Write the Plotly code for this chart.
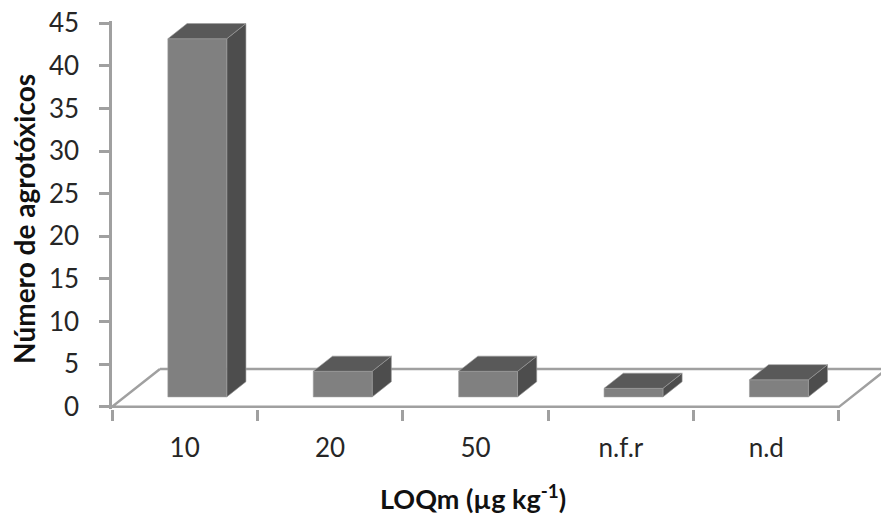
import plotly.graph_objects as go

# ---- data ----
categories = ["10", "20", "50", "n.f.r", "n.d"]
values = [42, 3, 3, 1, 2]
y_tick_vals = [0, 5, 10, 15, 20, 25, 30, 35, 40, 45]

# ---- 3D-look geometry (in data units) ----
DX, DY = 0.33, 4.45          # floor depth vector
BAR_W = 0.405                # bar width (category units)
F0, F1 = 0.263, 0.663        # bar depth start/end fractions of floor depth

FRONT = "#808080"
TOP = "#595959"
SIDE = "#4d4d4d"
EDGE = "#9c9c9c"
AXIS = "#a0a0a0"
FONT = "Lato"

fig = go.Figure()

n = len(categories)
x0, x1 = -0.5, n - 0.5
# floor outline
fig.add_trace(go.Scatter(
    x=[x0 + DX, x1 + DX, x1, x0, x0 + DX],
    y=[DY, DY, 0, 0, DY],
    mode="lines", line=dict(color=AXIS, width=2.5),
    hoverinfo="skip", showlegend=False))

def poly(xs, ys, color):
    fig.add_trace(go.Scatter(
        x=xs + [xs[0]], y=ys + [ys[0]], mode="lines", fill="toself",
        fillcolor=color, line=dict(color=EDGE, width=0.6),
        hoverinfo="skip", showlegend=False))

bdx, bdy = (F1 - F0) * DX, (F1 - F0) * DY
for i, v in enumerate(values):
    xl = i - BAR_W / 2 + F0 * DX
    xr = i + BAR_W / 2 + F0 * DX
    yb = F0 * DY
    yt = yb + v
    # side face
    poly([xr, xr + bdx, xr + bdx, xr], [yb, yb + bdy, yt + bdy, yt], SIDE)
    # front face
    poly([xl, xr, xr, xl], [yb, yb, yt, yt], FRONT)
    # top face
    poly([xl, xr, xr + bdx, xl + bdx], [yt, yt, yt + bdy, yt + bdy], TOP)

# helper trace to activate xaxis2 (category boundary ticks)
fig.add_trace(go.Scatter(x=[0], y=[0], xaxis="x2", mode="lines",
                         line=dict(width=0), hoverinfo="skip", showlegend=False))

XR = [-0.5, 4.789]
fig.update_layout(
    width=881, height=518,
    margin=dict(l=112, r=0, t=21, b=109),
    paper_bgcolor="white", plot_bgcolor="white",
    font=dict(family=FONT, color="#262626"),
    xaxis=dict(range=XR, tickvals=list(range(n)), ticktext=categories,
               ticks="", showline=False, showgrid=False, zeroline=False,
               tickfont=dict(size=26, family=FONT, color="#262626"),
               ticklabelstandoff=21),
    xaxis2=dict(range=XR, overlaying="x", side="bottom",
                tickvals=[k - 0.5 for k in range(n + 1)], showticklabels=False,
                ticks="outside", ticklen=11, tickwidth=2.5, tickcolor=AXIS,
                showline=False, showgrid=False, zeroline=False),
    yaxis=dict(range=[-0.25, 45.25], tickvals=y_tick_vals,
               ticks="outside", ticklen=10, tickwidth=2.5, tickcolor=AXIS,
               showline=True, linecolor=AXIS, linewidth=2.5,
               showgrid=False, zeroline=False,
               tickfont=dict(size=26, family=FONT, color="#262626"),
               ticklabelstandoff=15),
    annotations=[
        dict(text="<b>Número de agrotóxicos</b>", textangle=-90,
             xref="paper", yref="paper", x=-0.1144, y=0.49,
             showarrow=False, font=dict(size=28, family=FONT, color="#111"),
             xanchor="center", yanchor="middle"),
        dict(text="<b>LOQm (µg kg<sup>-1</sup>)</b>",
             xref="paper", yref="paper", x=0.4694, y=-0.2268,
             showarrow=False, font=dict(size=27, family=FONT, color="#111"),
             xanchor="center", yanchor="middle"),
    ],
)

fig.write_html("out.html")
